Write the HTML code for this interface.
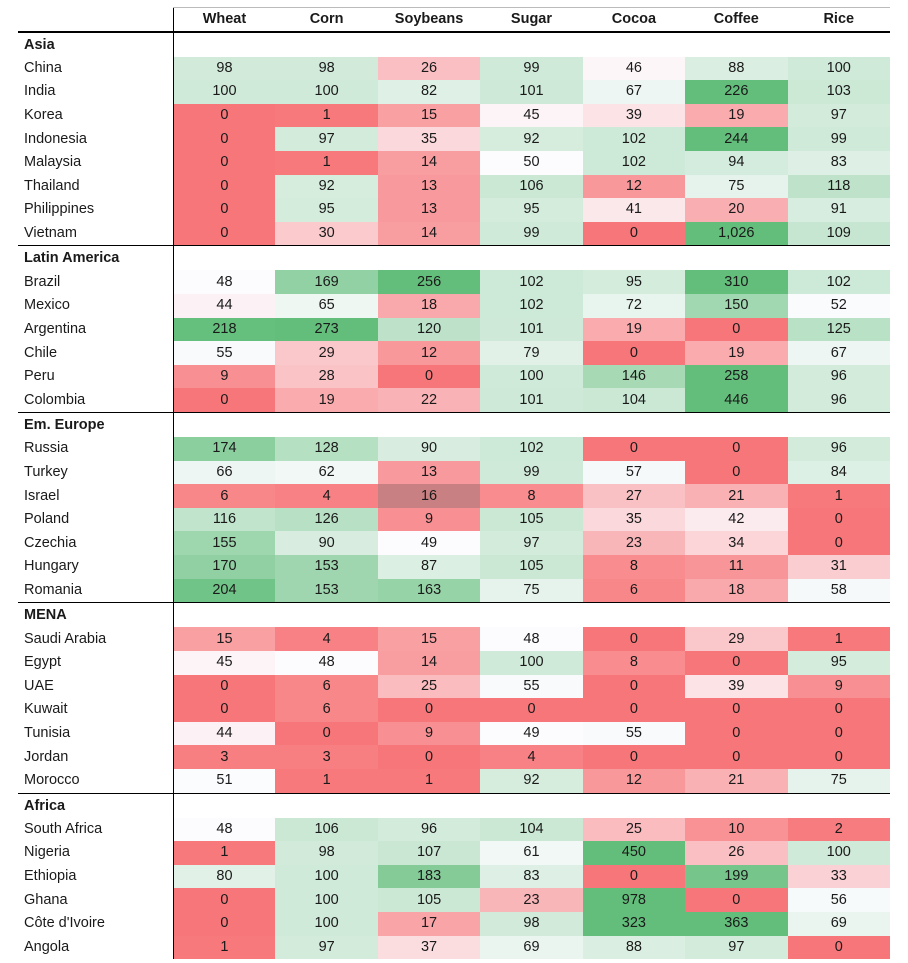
<!DOCTYPE html>
<html><head><meta charset="utf-8">
<style>
body{margin:0;background:#fff;width:908px;height:963px;overflow:hidden;font-family:"Liberation Sans",sans-serif;color:#1a1a1a}
table{position:absolute;left:18px;top:7px;border-collapse:collapse;table-layout:fixed;width:872px}
td{padding:0;font-size:14.5px;white-space:nowrap;overflow:hidden}
td.n{text-align:center}
col.l{width:155px}
tr.h td{height:24px;font-weight:bold;text-align:center;border-top:1px solid #bbb;border-bottom:2px solid #000;box-sizing:border-box}
tr.h td:first-child{border-top:none}
tr.g td{height:24px;font-weight:bold}
tr.g.s td{border-top:1.5px solid #000}
tr.d td{height:23.62px;line-height:23px}
td:nth-child(2){border-left:1.5px solid #000}
td.lab{padding-left:6px}
</style></head><body>
<table id="t">
<colgroup><col class="l"><col><col><col><col><col><col><col></colgroup>
<tr class="h"><td></td><td>Wheat</td><td>Corn</td><td>Soybeans</td><td>Sugar</td><td>Cocoa</td><td>Coffee</td><td>Rice</td></tr>
<tr class="g"><td class="lab">Asia</td><td></td><td></td><td></td><td></td><td></td><td></td><td></td></tr>
<tr class="d"><td class="lab">China</td><td class="n">98</td><td class="n">98</td><td class="n">26</td><td class="n">99</td><td class="n">46</td><td class="n">88</td><td class="n">100</td></tr>
<tr class="d"><td class="lab">India</td><td class="n">100</td><td class="n">100</td><td class="n">82</td><td class="n">101</td><td class="n">67</td><td class="n">226</td><td class="n">103</td></tr>
<tr class="d"><td class="lab">Korea</td><td class="n">0</td><td class="n">1</td><td class="n">15</td><td class="n">45</td><td class="n">39</td><td class="n">19</td><td class="n">97</td></tr>
<tr class="d"><td class="lab">Indonesia</td><td class="n">0</td><td class="n">97</td><td class="n">35</td><td class="n">92</td><td class="n">102</td><td class="n">244</td><td class="n">99</td></tr>
<tr class="d"><td class="lab">Malaysia</td><td class="n">0</td><td class="n">1</td><td class="n">14</td><td class="n">50</td><td class="n">102</td><td class="n">94</td><td class="n">83</td></tr>
<tr class="d"><td class="lab">Thailand</td><td class="n">0</td><td class="n">92</td><td class="n">13</td><td class="n">106</td><td class="n">12</td><td class="n">75</td><td class="n">118</td></tr>
<tr class="d"><td class="lab">Philippines</td><td class="n">0</td><td class="n">95</td><td class="n">13</td><td class="n">95</td><td class="n">41</td><td class="n">20</td><td class="n">91</td></tr>
<tr class="d"><td class="lab">Vietnam</td><td class="n">0</td><td class="n">30</td><td class="n">14</td><td class="n">99</td><td class="n">0</td><td class="n">1,026</td><td class="n">109</td></tr>
<tr class="g s"><td class="lab">Latin America</td><td></td><td></td><td></td><td></td><td></td><td></td><td></td></tr>
<tr class="d"><td class="lab">Brazil</td><td class="n">48</td><td class="n">169</td><td class="n">256</td><td class="n">102</td><td class="n">95</td><td class="n">310</td><td class="n">102</td></tr>
<tr class="d"><td class="lab">Mexico</td><td class="n">44</td><td class="n">65</td><td class="n">18</td><td class="n">102</td><td class="n">72</td><td class="n">150</td><td class="n">52</td></tr>
<tr class="d"><td class="lab">Argentina</td><td class="n">218</td><td class="n">273</td><td class="n">120</td><td class="n">101</td><td class="n">19</td><td class="n">0</td><td class="n">125</td></tr>
<tr class="d"><td class="lab">Chile</td><td class="n">55</td><td class="n">29</td><td class="n">12</td><td class="n">79</td><td class="n">0</td><td class="n">19</td><td class="n">67</td></tr>
<tr class="d"><td class="lab">Peru</td><td class="n">9</td><td class="n">28</td><td class="n">0</td><td class="n">100</td><td class="n">146</td><td class="n">258</td><td class="n">96</td></tr>
<tr class="d"><td class="lab">Colombia</td><td class="n">0</td><td class="n">19</td><td class="n">22</td><td class="n">101</td><td class="n">104</td><td class="n">446</td><td class="n">96</td></tr>
<tr class="g s"><td class="lab">Em. Europe</td><td></td><td></td><td></td><td></td><td></td><td></td><td></td></tr>
<tr class="d"><td class="lab">Russia</td><td class="n">174</td><td class="n">128</td><td class="n">90</td><td class="n">102</td><td class="n">0</td><td class="n">0</td><td class="n">96</td></tr>
<tr class="d"><td class="lab">Turkey</td><td class="n">66</td><td class="n">62</td><td class="n">13</td><td class="n">99</td><td class="n">57</td><td class="n">0</td><td class="n">84</td></tr>
<tr class="d"><td class="lab">Israel</td><td class="n">6</td><td class="n">4</td><td class="n" style="background:#c98082" data-f="1">16</td><td class="n">8</td><td class="n">27</td><td class="n">21</td><td class="n">1</td></tr>
<tr class="d"><td class="lab">Poland</td><td class="n">116</td><td class="n">126</td><td class="n">9</td><td class="n">105</td><td class="n">35</td><td class="n">42</td><td class="n">0</td></tr>
<tr class="d"><td class="lab">Czechia</td><td class="n">155</td><td class="n">90</td><td class="n">49</td><td class="n">97</td><td class="n">23</td><td class="n">34</td><td class="n">0</td></tr>
<tr class="d"><td class="lab">Hungary</td><td class="n">170</td><td class="n">153</td><td class="n">87</td><td class="n">105</td><td class="n">8</td><td class="n">11</td><td class="n">31</td></tr>
<tr class="d"><td class="lab">Romania</td><td class="n">204</td><td class="n">153</td><td class="n">163</td><td class="n">75</td><td class="n">6</td><td class="n">18</td><td class="n">58</td></tr>
<tr class="g s"><td class="lab">MENA</td><td></td><td></td><td></td><td></td><td></td><td></td><td></td></tr>
<tr class="d"><td class="lab">Saudi Arabia</td><td class="n">15</td><td class="n">4</td><td class="n">15</td><td class="n">48</td><td class="n">0</td><td class="n">29</td><td class="n">1</td></tr>
<tr class="d"><td class="lab">Egypt</td><td class="n">45</td><td class="n">48</td><td class="n">14</td><td class="n">100</td><td class="n">8</td><td class="n">0</td><td class="n">95</td></tr>
<tr class="d"><td class="lab">UAE</td><td class="n">0</td><td class="n">6</td><td class="n">25</td><td class="n">55</td><td class="n">0</td><td class="n">39</td><td class="n">9</td></tr>
<tr class="d"><td class="lab">Kuwait</td><td class="n">0</td><td class="n">6</td><td class="n">0</td><td class="n">0</td><td class="n">0</td><td class="n">0</td><td class="n">0</td></tr>
<tr class="d"><td class="lab">Tunisia</td><td class="n">44</td><td class="n">0</td><td class="n">9</td><td class="n">49</td><td class="n">55</td><td class="n">0</td><td class="n">0</td></tr>
<tr class="d"><td class="lab">Jordan</td><td class="n">3</td><td class="n">3</td><td class="n">0</td><td class="n">4</td><td class="n">0</td><td class="n">0</td><td class="n">0</td></tr>
<tr class="d"><td class="lab">Morocco</td><td class="n">51</td><td class="n">1</td><td class="n">1</td><td class="n">92</td><td class="n">12</td><td class="n">21</td><td class="n">75</td></tr>
<tr class="g s"><td class="lab">Africa</td><td></td><td></td><td></td><td></td><td></td><td></td><td></td></tr>
<tr class="d"><td class="lab">South Africa</td><td class="n">48</td><td class="n">106</td><td class="n">96</td><td class="n">104</td><td class="n">25</td><td class="n">10</td><td class="n">2</td></tr>
<tr class="d"><td class="lab">Nigeria</td><td class="n">1</td><td class="n">98</td><td class="n">107</td><td class="n">61</td><td class="n">450</td><td class="n">26</td><td class="n">100</td></tr>
<tr class="d"><td class="lab">Ethiopia</td><td class="n">80</td><td class="n">100</td><td class="n">183</td><td class="n">83</td><td class="n">0</td><td class="n">199</td><td class="n">33</td></tr>
<tr class="d"><td class="lab">Ghana</td><td class="n">0</td><td class="n">100</td><td class="n">105</td><td class="n">23</td><td class="n">978</td><td class="n">0</td><td class="n">56</td></tr>
<tr class="d"><td class="lab">Côte d'Ivoire</td><td class="n">0</td><td class="n">100</td><td class="n">17</td><td class="n">98</td><td class="n">323</td><td class="n">363</td><td class="n">69</td></tr>
<tr class="d"><td class="lab">Angola</td><td class="n">1</td><td class="n">97</td><td class="n">37</td><td class="n">69</td><td class="n">88</td><td class="n">97</td><td class="n">0</td></tr>
</table>
<script>
var R=[247,118,121],W=[252,252,255],G=[99,190,123];
function mix(a,b,t){return 'rgb('+a.map(function(v,i){return Math.round(v+(b[i]-v)*t)}).join(',')+')';}
document.querySelectorAll('td.n').forEach(function(td){
 if(td.dataset.f)return;
 var v=parseFloat(td.textContent.replace(/,/g,''));
 var c;
 if(v<50)c=mix(R,W,Math.min(1,v/48));
 else c=mix(W,G,Math.min(1,(v-50)/170));
 td.style.background=c;
});
</script>
</body></html>
